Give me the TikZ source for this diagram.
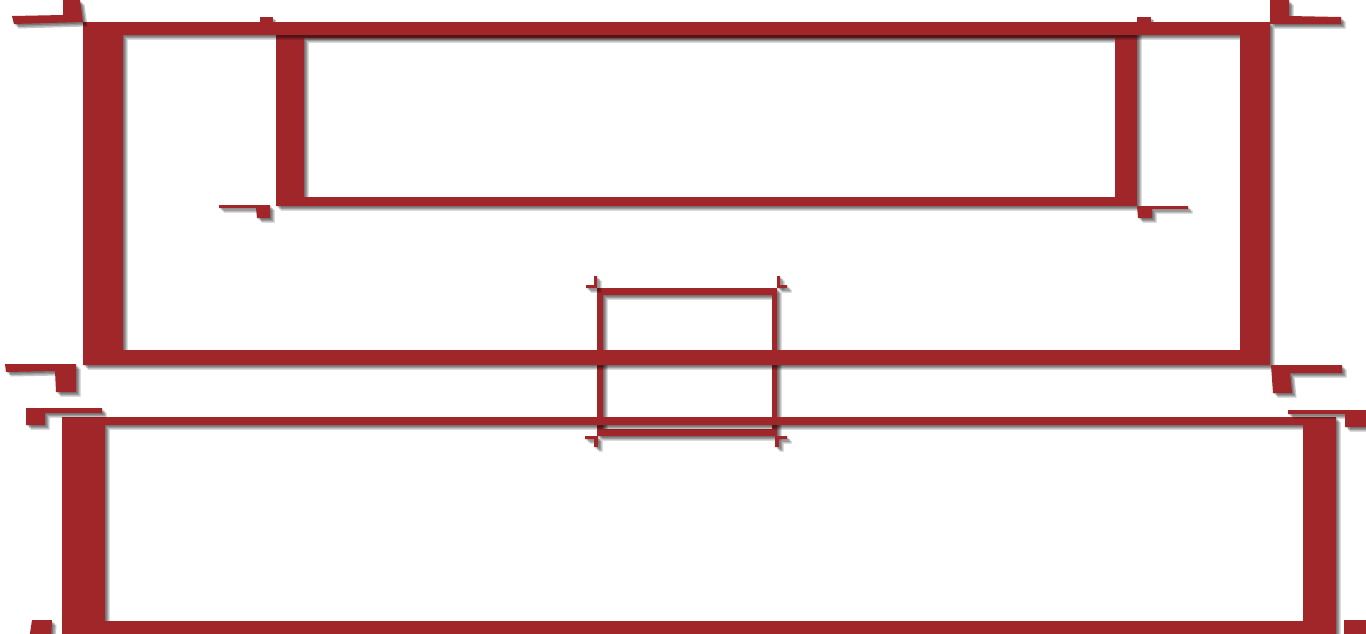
\documentclass[tikz,border=0pt]{standalone}
\definecolor{framered}{RGB}{161,38,41}
\tikzset{
  redfill/.style={fill=framered,even odd rule},
  shadowfill/.style={fill=black,opacity=0.22,even odd rule}
}
\newcommand\framepiece[1]{%
  \fill[shadowfill,shift={(1.5,1.5)}] #1;
  \fill[shadowfill,shift={(3,3)}] #1;
  \fill[shadowfill,shift={(4.5,4.5)}] #1;
  \fill[redfill] #1;}
\begin{document}
\begin{tikzpicture}[x=1pt,y=-1pt]
\useasboundingbox (0,0) rectangle (1366,633);
\fill[white] (0,0) rectangle (1366,633);
\clip (0,0) rectangle (1366,633);

% small box C and its marks
\framepiece{(597,288) rectangle (777,436) (603,295) rectangle (772,429)}
\framepiece{(594,276) -- (597,276) -- (597,288) -- (586,288) -- (586,285) -- (594,285) -- cycle}
\framepiece{(777,276) -- (780,276) -- (780,285) -- (787,285) -- (787,288) -- (777,288) -- cycle}
\framepiece{(585,436) -- (598,436) -- (598,447) -- (594,447) -- (594,439) -- (585,439) -- cycle}
\framepiece{(775,436) -- (787,436) -- (787,439) -- (779,439) -- (779,447) -- (775,447) -- cycle}

% inner box A2 and its marks
\framepiece{(276,22) rectangle (1137,206) (304,38) rectangle (1115,197)}
\framepiece{(260,17) rectangle (273,22)}
\framepiece{(1137,17) rectangle (1151,22)}
\framepiece{(219,205) -- (270,205) -- (270,218) -- (257,218) -- (256,208) -- (219,208) -- cycle}
\framepiece{(1137,206) -- (1188,206) -- (1188,209) -- (1152,209) -- (1152,218) -- (1138,218) -- cycle}

% frame A and its marks
\framepiece{(83,22) rectangle (1270,365) (123,35) rectangle (1240,350)}
\framepiece{(63,0) -- (80,0) -- (83,22) -- (14,24) -- (12,16) -- (63,15) -- cycle}
\framepiece{(1270,0) -- (1289,0) -- (1289,16) -- (1341,17) -- (1341,24) -- (1270,24) -- cycle}
\framepiece{(5,364) -- (76,364) -- (76,392) -- (56,392) -- (55,371) -- (6,372) -- cycle}
\framepiece{(1271,365) -- (1342,365) -- (1342,373) -- (1290,373) -- (1292,393) -- (1273,393) -- cycle}

% frame B and its marks
\framepiece{(62,417) rectangle (1336,645) (105,425) rectangle (1303,621)}
\framepiece{(26,408) -- (102,408) -- (102,413) -- (45,413) -- (45,425) -- (26,425) -- cycle}
\framepiece{(1288,410) -- (1366,410) -- (1366,427) -- (1345,427) -- (1345,414) -- (1288,414) -- cycle}
\framepiece{(32,620) -- (52,620) -- (51,640) -- (29,640) -- cycle}
\framepiece{(1344,620) -- (1370,620) -- (1370,640) -- (1344,640) -- cycle}
\end{tikzpicture}
\end{document}
